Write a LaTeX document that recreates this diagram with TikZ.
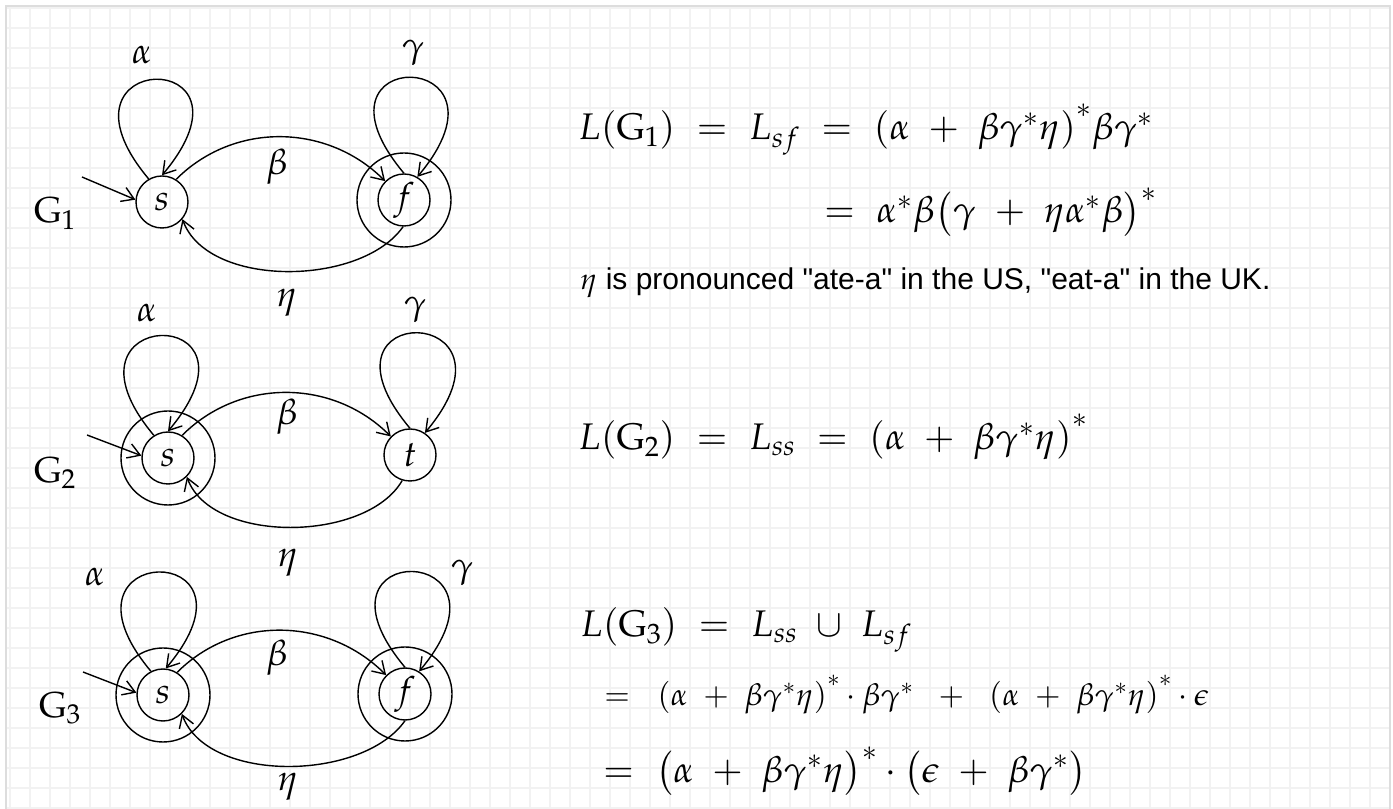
\documentclass[tikz,border=0pt]{standalone}
\usepackage[no-math]{fontspec}
\usepackage{mathpazo}
\newfontfamily\notefont{Liberation Sans}
\usetikzlibrary{arrows.meta,positioning}
\definecolor{gridgray}{HTML}{F2F2F2}
\definecolor{framegray}{HTML}{DDDDDD}
\newcommand{\ks}{^{\raisebox{0.25em}{$\scriptstyle *$}}}

\begin{document}
\begin{tikzpicture}[x=1pt, y=1pt,
    gridline/.style={draw=gridgray, line width=1.5pt},
    frameline/.style={draw=framegray, line width=1.6pt},
    state/.style={draw, circle, line width=1.4pt, minimum size=52pt, inner sep=0pt, font=\fontsize{36}{40}\selectfont},
    ring/.style={draw, circle, line width=1.4pt, minimum size=94pt, inner sep=0pt},
    edge/.style={line width=1.4pt, -{Straight Barb[length=12pt,width=15pt]}},
    lbl/.style={inner sep=0pt, font=\fontsize{36}{40}\selectfont},
    eqn/.style={anchor=base west, inner sep=0pt, font=\fontsize{37}{44}\selectfont}
  ]
    \useasboundingbox (0,0) rectangle (1393,809);
    \fill[white] (0,0) rectangle (1393,809);
    \foreach \gx in {10,30,...,1390} \draw[gridline] (\gx,0) -- (\gx,803);
    \foreach \gy in {1,21,...,801} \draw[gridline] (6,\gy) -- (1390,\gy);
    \draw[frameline] (6,0) -- (6,803) -- (1390,803) -- (1390,0);

    \node[state] (s1) at (162,607) {$s$};
    \node[state] (f1) at (404,609) {$f$};
    \node[ring] (f1ring) at (f1) {};
    \node[lbl] (g1) at (55,596) {$\mathrm{G}_1$};
    \coordinate (in1) at (82,632);
    \node[lbl] (a1) at (142,754) {$\alpha$};
    \node[lbl] (c1) at (413,756) {$\gamma$};
    \node[lbl] (b1) at (277,642) {$\beta$};
    \node[lbl] (e1) at (287,506) {$\eta$};
    \draw[edge] (in1) -- (s1.175);
    \draw[edge] (s1.120) to[out=130, in=50, distance=170pt] (s1.90);
    \draw[edge] (f1.90) to[out=130, in=50, distance=170pt] (f1.60);
    \draw[edge] (s1.58) to[out=45, in=135] (f1.135);
    \draw[edge] (f1.-92) to[out=-125, in=-70, looseness=0.85] (s1.-40);

    \node[state] (s2) at (168,351) {$s$};
    \node[ring] (s2ring) at (s2) {};
    \node[state] (t2) at (410,354) {$t$};
    \node[lbl] (g2) at (55,336) {$\mathrm{G}_2$};
    \coordinate (in2) at (87,374);
    \node[lbl] (a2) at (147,496) {$\alpha$};
    \node[lbl] (c2) at (415,499) {$\gamma$};
    \node[lbl] (b2) at (287,392) {$\beta$};
    \node[lbl] (e2) at (288,246) {$\eta$};
    \draw[edge] (in2) -- (s2.175);
    \draw[edge] (s2.122) to[out=130, in=50, distance=170pt] (s2.90);
    \draw[edge] (t2.90) to[out=130, in=50, distance=170pt] (t2.56);
    \draw[edge] (s2.58) to[out=45, in=135] (t2.136);
    \draw[edge] (t2.-107) to[out=-120, in=-70, looseness=0.85] (s2.-45);

    \node[state] (s3) at (163,114) {$s$};
    \node[ring] (s3ring) at (s3) {};
    \node[state] (f3) at (405,115) {$f$};
    \node[ring] (f3ring) at (f3) {};
    \node[lbl] (g3) at (60,101) {$\mathrm{G}_3$};
    \coordinate (in3) at (83,137);
    \node[lbl] (a3) at (95,232) {$\alpha$};
    \node[lbl] (c3) at (462,236) {$\gamma$};
    \node[lbl] (b3) at (277,151) {$\beta$};
    \node[lbl] (e3) at (288,22) {$\eta$};
    \draw[edge] (in3) -- (s3.175);
    \draw[edge] (s3.117) to[out=130, in=50, distance=170pt] (s3.84);
    \draw[edge] (f3.90) to[out=130, in=50, distance=170pt] (f3.58);
    \draw[edge] (s3.58) to[out=45, in=135] (f3.135);
    \draw[edge] (f3.-90) to[out=-125, in=-70, looseness=0.85] (s3.-45);

    \node[eqn] (eq1) at (578,669) {$L(\mathrm{G}_1)\ =\ L_{sf}\ =\ (\alpha\ +\ \beta\gamma^{*}\eta)\ks\beta\gamma^{*}$};
    \node[eqn] (eq1b) at (824,586) {$=\ \alpha^{*}\beta\bigl(\gamma\ +\ \eta\alpha^{*}\beta\bigr)^{*}$};
    \node[eqn, font=\notefont\fontsize{30}{36}\selectfont] (note) at (580,519) {$\eta$ is pronounced "ate-a" in the US, "eat-a" in the UK.};
    \node[eqn] (eq2) at (578,359) {$L(\mathrm{G}_2)\ =\ L_{ss}\ =\ (\alpha\ +\ \beta\gamma^{*}\eta)\ks$};
    \node[eqn] (eq3) at (580,172) {$L(\mathrm{G}_3)\ =\ L_{ss}\ \cup\ L_{sf}$};
    \node[eqn, font=\fontsize{31}{36}\selectfont] (eq3b) at (604,103) {$=\ \ (\alpha\ +\ \beta\gamma^{*}\eta)\ks\cdot\beta\gamma^{*}\ \ +\ \ (\alpha\ +\ \beta\gamma^{*}\eta)\ks\cdot\epsilon$};
    \node[eqn] (eq3c) at (603,27) {$=\ \bigl(\alpha\ +\ \beta\gamma^{*}\eta\bigr)^{*}\cdot\bigl(\epsilon\ +\ \beta\gamma^{*}\bigr)$};
\end{tikzpicture}
\end{document}
